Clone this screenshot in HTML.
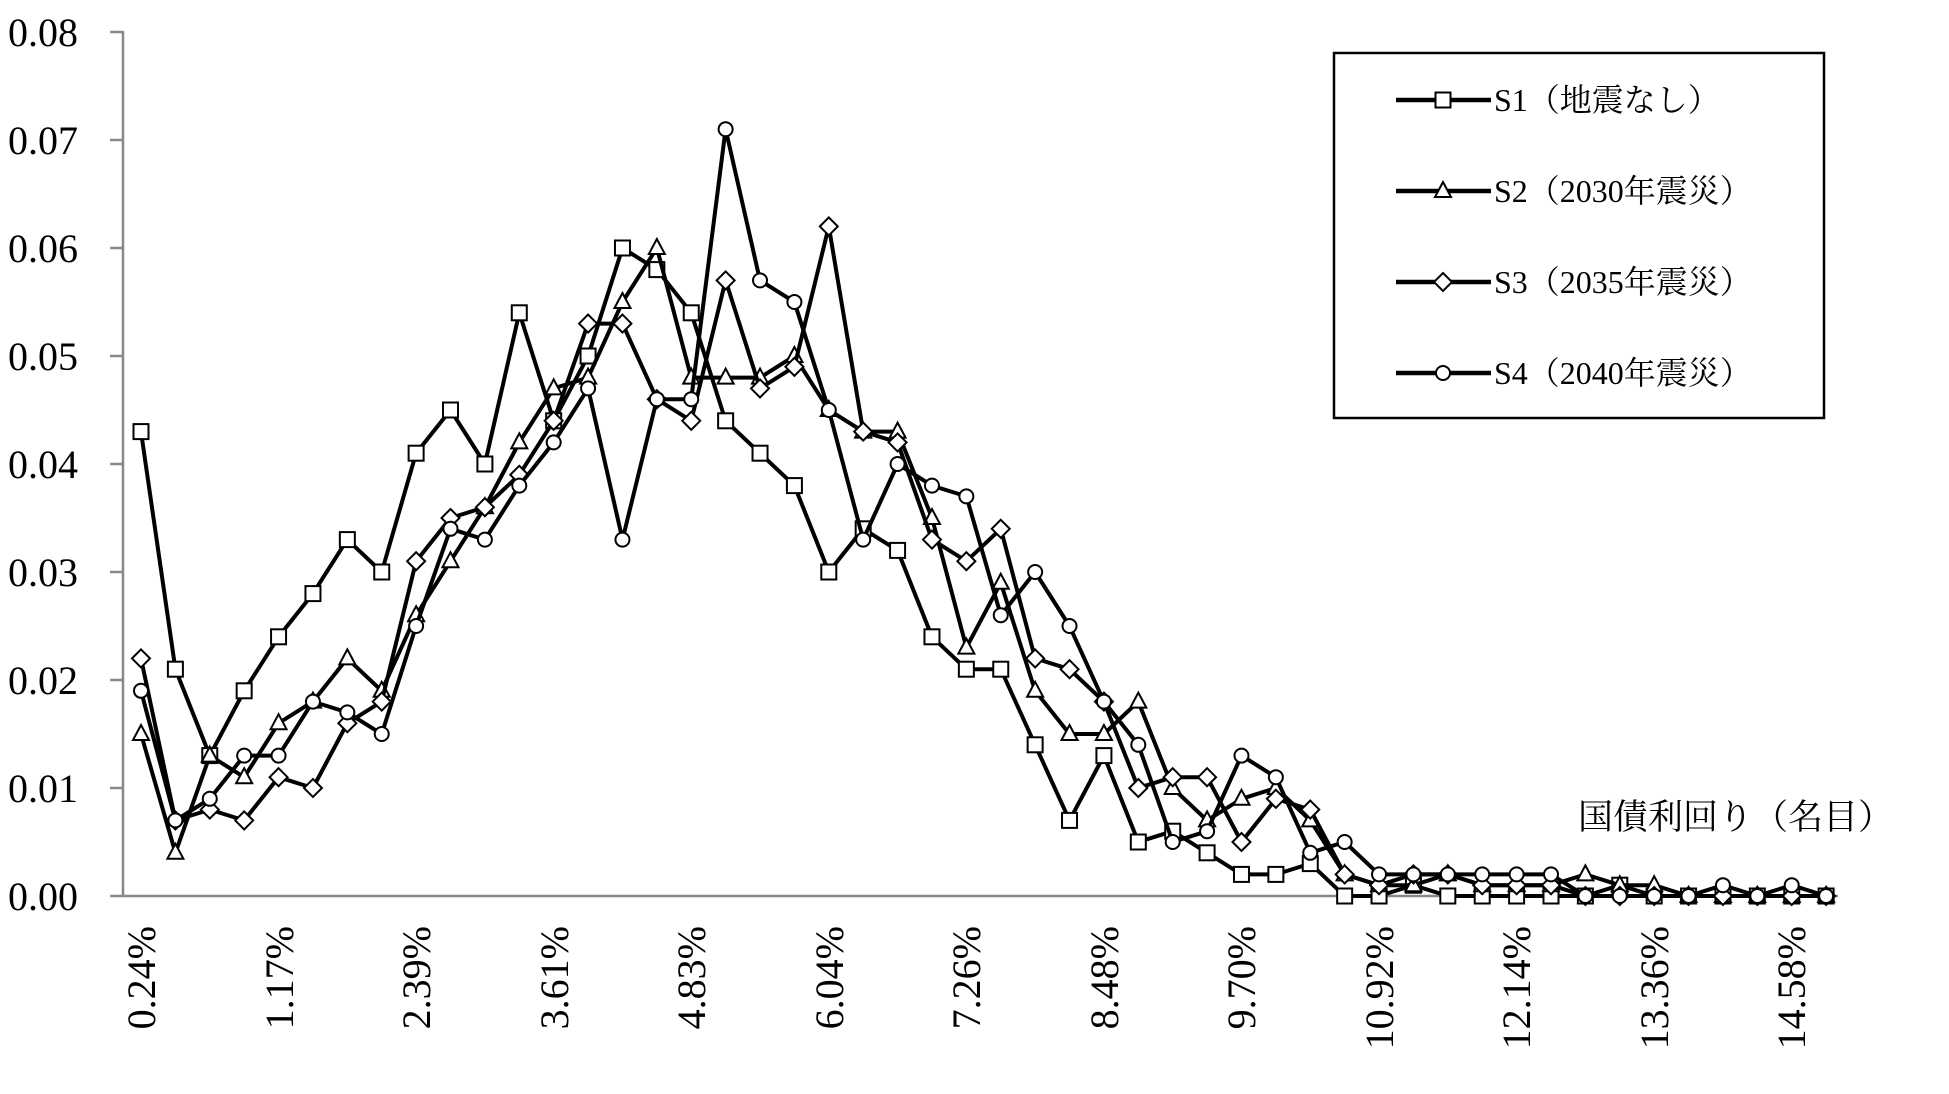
<!DOCTYPE html>
<html><head><meta charset="utf-8"><style>
html,body{margin:0;padding:0;background:#fff;}
svg{display:block;}
text{font-family:"Liberation Serif","Noto Serif CJK SC",serif;fill:#000;}
</style></head><body>
<svg id="c" width="1949" height="1094" viewBox="0 0 1949 1094" xmlns="http://www.w3.org/2000/svg">
<g stroke="#888" stroke-width="2.5" fill="none">
<line x1="123" y1="31" x2="123" y2="896"/>
<line x1="110" y1="896" x2="1838" y2="896"/>
<line x1="110" y1="32" x2="123" y2="32"/>
<line x1="110" y1="140" x2="123" y2="140"/>
<line x1="110" y1="248" x2="123" y2="248"/>
<line x1="110" y1="356" x2="123" y2="356"/>
<line x1="110" y1="464" x2="123" y2="464"/>
<line x1="110" y1="572" x2="123" y2="572"/>
<line x1="110" y1="680" x2="123" y2="680"/>
<line x1="110" y1="788" x2="123" y2="788"/>
</g>
<g font-size="40" text-anchor="start">
<text x="8" y="46">0.08</text>
<text x="8" y="154">0.07</text>
<text x="8" y="262">0.06</text>
<text x="8" y="370">0.05</text>
<text x="8" y="478">0.04</text>
<text x="8" y="586">0.03</text>
<text x="8" y="694">0.02</text>
<text x="8" y="802">0.01</text>
<text x="8" y="910">0.00</text>
</g>
<g font-size="40" text-anchor="end">
<text transform="translate(155,926) rotate(-90)">0.24%</text>
<text transform="translate(293,926) rotate(-90)">1.17%</text>
<text transform="translate(430,926) rotate(-90)">2.39%</text>
<text transform="translate(568,926) rotate(-90)">3.61%</text>
<text transform="translate(705,926) rotate(-90)">4.83%</text>
<text transform="translate(843,926) rotate(-90)">6.04%</text>
<text transform="translate(980,926) rotate(-90)">7.26%</text>
<text transform="translate(1118,926) rotate(-90)">8.48%</text>
<text transform="translate(1255,926) rotate(-90)">9.70%</text>
<text transform="translate(1393,926) rotate(-90)">10.92%</text>
<text transform="translate(1530,926) rotate(-90)">12.14%</text>
<text transform="translate(1668,926) rotate(-90)">13.36%</text>
<text transform="translate(1805,926) rotate(-90)">14.58%</text>
</g>
<text x="1578" y="829" font-size="35">国債利回り（名目）</text>
<rect x="1334" y="53" width="490" height="365" fill="#fff" stroke="#000" stroke-width="2.5"/>
<g font-size="32">
<text x="1494" y="111">S1（地震なし）</text>
<text x="1494" y="202">S2（2030年震災）</text>
<text x="1494" y="293">S3（2035年震災）</text>
<text x="1494" y="384">S4（2040年震災）</text>
</g>
<g id="g"></g>
</svg>
<script>
var S=[
[43,21,13,19,24,28,33,30,41,45,40,54,44,50,60,58,54,44,41,38,30,34,32,24,21,21,14,7,13,5,6,4,2,2,3,0,0,1,0,0,0,0,0,1,0,0,0,0,0,0],
[15,4,13,11,16,18,22,19,26,31,36,42,47,48,55,60,48,48,48,50,45,43,43,35,23,29,19,15,15,18,10,7,9,10,7,2,1,1,2,1,1,1,2,1,1,0,0,0,0,0],
[22,7,8,7,11,10,16,18,31,35,36,39,44,53,53,46,44,57,47,49,62,43,42,33,31,34,22,21,18,10,11,11,5,9,8,2,1,2,2,1,1,1,0,0,0,0,0,0,0,0],
[19,7,9,13,13,18,17,15,25,34,33,38,42,47,33,46,46,71,57,55,45,33,40,38,37,26,30,25,18,14,5,6,13,11,4,5,2,2,2,2,2,2,0,0,0,0,1,0,1,0]];
var g=document.getElementById('g'),h='';
function mk(t,x,y){var r=7.5;
if(t==0)return '<rect x="'+(x-r)+'" y="'+(y-r)+'" width="'+2*r+'" height="'+2*r+'" fill="#fff" stroke="#000" stroke-width="2"/>';
if(t==1)return '<polygon points="'+x+','+(y-9)+' '+(x+8)+','+(y+6)+' '+(x-8)+','+(y+6)+'" fill="#fff" stroke="#000" stroke-width="2"/>';
if(t==2)return '<polygon points="'+x+','+(y-9)+' '+(x+9)+','+y+' '+x+','+(y+9)+' '+(x-9)+','+y+'" fill="#fff" stroke="#000" stroke-width="2"/>';
return '<circle cx="'+x+'" cy="'+y+'" r="7" fill="#fff" stroke="#000" stroke-width="2"/>';}
for(var s=0;s<4;s++){var p=[],m='';for(var i=0;i<50;i++){var x=141+i*34.39,y=896-S[s][i]*10.8;p.push(x.toFixed(1)+','+y.toFixed(1));m+=mk(s,x,y);}
h+='<polyline points="'+p.join(' ')+'" fill="none" stroke="#000" stroke-width="4" stroke-linejoin="round"/>'+m;}
var ly=[100,191,282,373];
for(var s=0;s<4;s++){h+='<line x1="1396" y1="'+ly[s]+'" x2="1491" y2="'+ly[s]+'" stroke="#000" stroke-width="4.5"/>'+mk(s,1443,ly[s]);}
g.innerHTML=h;
</script>
</body></html>
